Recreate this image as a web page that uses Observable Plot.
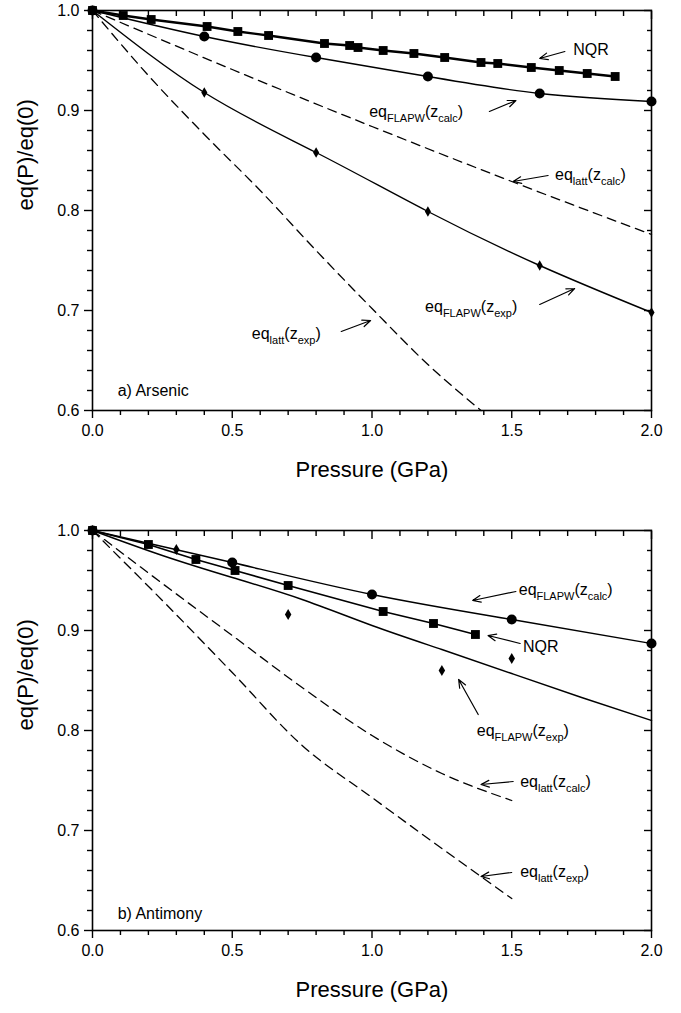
<!DOCTYPE html>
<html><head><meta charset="utf-8">
<script src="https://cdn.jsdelivr.net/npm/d3@7"></script>
<script src="https://cdn.jsdelivr.net/npm/@observablehq/plot@0.6"></script>
<style>
body{margin:0;background:#fff;}
#chart{width:681px;}
#chart svg{display:block;}
</style>
</head><body><div id="chart"></div>
<script>
// ---------- Axis ticks ----------
const xMajor = [0, 0.5, 1.0, 1.5, 2.0];
const xMinor = [0.1,0.2,0.3,0.4,0.6,0.7,0.8,0.9,1.1,1.2,1.3,1.4,1.6,1.7,1.8,1.9];
const yMajor = [0.6, 0.7, 0.8, 0.9, 1.0];
const yMinor = [0.62,0.64,0.66,0.68,0.72,0.74,0.76,0.78,0.82,0.84,0.86,0.88,0.92,0.94,0.96,0.98];

// ---------- a) Arsenic ----------
const asNqrP = [0, 0.11, 0.21, 0.41, 0.52, 0.63, 0.83, 0.92, 0.95, 1.04, 1.15, 1.26, 1.39, 1.45, 1.57, 1.67, 1.77, 1.87];
const asNqrV = [1.0, 0.995, 0.991, 0.984, 0.979, 0.975, 0.967, 0.965, 0.963, 0.960, 0.957, 0.953, 0.948, 0.947, 0.943, 0.940, 0.937, 0.934];
const asFlapwP = [0, 0.4, 0.8, 1.2, 1.6, 2.0];
const asFlapwCalcV = [1.0, 0.974, 0.953, 0.934, 0.917, 0.909];
const asFlapwExpV = [1.0, 0.918, 0.858, 0.799, 0.745, 0.698];
const asLattCalcP = [0, 0.5, 1.0, 1.5, 2.0];
const asLattCalcV = [1.0, 0.941, 0.884, 0.829, 0.776];
const asLattExpP = [0, 0.2, 0.4, 0.6, 0.8, 1.0, 1.2, 1.39];
const asLattExpV = [1.0, 0.935, 0.876, 0.82, 0.76, 0.702, 0.646, 0.60];
// annotations (label text, anchor point, arrow)
const asLabels = ["NQR", "eq_{FLAPW}(z_{calc})", "eq_{latt}(z_{calc})", "eq_{FLAPW}(z_{exp})", "eq_{latt}(z_{exp})", "a) Arsenic"];
const asLabelP = [1.72, 0.99, 1.655, 1.19, 0.57, 0.09];
const asLabelV = [0.961, 0.899, 0.836, 0.704, 0.677, 0.62];
const asArrowP1 = [1.69, 1.42, 1.63, 1.60, 0.89];
const asArrowV1 = [0.959, 0.899, 0.835, 0.706, 0.679];
const asArrowP2 = [1.60, 1.515, 1.505, 1.725, 0.995];
const asArrowV2 = [0.952, 0.910, 0.829, 0.722, 0.690];

// ---------- b) Antimony ----------
const sbNqrP = [0, 0.2, 0.37, 0.51, 0.70, 1.04, 1.22, 1.37];
const sbNqrV = [1.0, 0.986, 0.971, 0.960, 0.945, 0.919, 0.907, 0.896];
const sbFlapwCalcP = [0, 0.5, 1.0, 1.5, 2.0];
const sbFlapwCalcV = [1.0, 0.968, 0.936, 0.911, 0.887];
const sbDiamondP = [0, 0.3, 0.7, 1.25, 1.5];
const sbDiamondV = [1.0, 0.981, 0.916, 0.860, 0.872];
const sbFlapwExpP = [0, 0.25, 0.5, 0.75, 1.0, 1.25, 1.5, 1.75, 2.0];
const sbFlapwExpV = [1.0, 0.975, 0.953, 0.931, 0.905, 0.881, 0.857, 0.833, 0.81];
const sbLattP = [0, 0.25, 0.5, 0.75, 1.0, 1.25, 1.5];
const sbLattCalcV = [1.0, 0.947, 0.895, 0.843, 0.795, 0.757, 0.730];
const sbLattExpV = [1.0, 0.93, 0.858, 0.785, 0.733, 0.682, 0.632];
const sbLabels = ["eq_{FLAPW}(z_{calc})", "NQR", "eq_{FLAPW}(z_{exp})", "eq_{latt}(z_{calc})", "eq_{latt}(z_{exp})", "b) Antimony"];
const sbLabelP = [1.525, 1.54, 1.375, 1.53, 1.53, 0.09];
const sbLabelV = [0.941, 0.884, 0.80, 0.749, 0.659, 0.617];
const sbArrowP1 = [1.515, 1.53, 1.38, 1.505, 1.50];
const sbArrowV1 = [0.939, 0.887, 0.816, 0.749, 0.658];
const sbArrowP2 = [1.36, 1.415, 1.31, 1.39, 1.39];
const sbArrowV2 = [0.930, 0.895, 0.851, 0.746, 0.654];

const FONT = "'Liberation Sans', Arial, Helvetica, sans-serif";
const zip = (xs, ys) => xs.map((x, i) => ({x, y: ys[i]}));

function axes() {
  const blank = () => "";
  return [
    Plot.axisX({ticks: xMajor, tickSize: 8, tickPadding: 6, tickFormat: d3.format(".1f"), fontSize: 16, label: null, strokeWidth: 1.4}),
    Plot.axisX({ticks: xMinor, tickSize: 5, tickFormat: blank, label: null, strokeWidth: 1.4}),
    Plot.axisX({anchor: "top", ticks: xMajor, tickSize: -8, tickFormat: blank, label: null, strokeWidth: 1.4}),
    Plot.axisX({anchor: "top", ticks: xMinor, tickSize: -5, tickFormat: blank, label: null, strokeWidth: 1.4}),
    Plot.axisY({ticks: yMajor, tickSize: 8, tickPadding: 5, tickFormat: d3.format(".1f"), fontSize: 16, label: null, strokeWidth: 1.4}),
    Plot.axisY({ticks: yMinor, tickSize: 5, tickFormat: blank, label: null, strokeWidth: 1.4}),
    Plot.axisY({anchor: "right", ticks: yMajor, tickSize: -8, tickFormat: blank, label: null, strokeWidth: 1.4}),
    Plot.axisY({anchor: "right", ticks: yMinor, tickSize: -5, tickFormat: blank, label: null, strokeWidth: 1.4}),
    Plot.frame({stroke: "black", strokeWidth: 1.6}),
    Plot.text(["Pressure (GPa)"], {frameAnchor: "bottom", dy: 66, fontSize: 22, fill: "black"}),
    Plot.text(["eq(P)/eq(0)"], {frameAnchor: "left", dx: -67, rotate: -90, fontSize: 22, fill: "black"})
  ];
}

function annotations(labels, lp, lv, p1, v1, p2, v2) {
  const lab = labels.map((t, i) => ({t, x: lp[i], y: lv[i]}));
  const arr = p1.map((d, i) => ({x1: d, y1: v1[i], x2: p2[i], y2: v2[i]}));
  return [
    Plot.text(lab, {x: "x", y: "y", text: "t", textAnchor: "start", fontSize: 16, fill: "black"}),
    Plot.arrow(arr, {x1: "x1", y1: "y1", x2: "x2", y2: "y2", stroke: "black", strokeWidth: 1.2, headLength: 11, headAngle: 45})
  ];
}

function subscripts(svg) {
  d3.select(svg).selectAll("text").each(function () {
    const t = this.textContent;
    if (!t.includes("_{")) return;
    const sel = d3.select(this);
    sel.text(null);
    const parts = t.split(/(_\{[^}]*\})/).filter(p => p);
    let lowered = false;
    for (const p of parts) {
      if (p.startsWith("_{")) {
        sel.append("tspan").attr("font-size", 11).attr("dy", lowered ? 0 : 5).text(p.slice(2, -1));
        lowered = true;
      } else {
        sel.append("tspan").attr("dy", lowered ? -5 : 0).text(p);
        lowered = false;
      }
    }
  });
  return svg;
}

const common = {
  width: 681,
  marginLeft: 92,
  marginRight: 30,
  x: {domain: [0, 2.0]},
  y: {domain: [0.6, 1.0]},
  style: {fontFamily: FONT, color: "black", background: "white", overflow: "visible"}
};

const plotA = Plot.plot({
  ...common,
  height: 506, marginTop: 10, marginBottom: 96,
  marks: [
    ...axes(),
    Plot.line(zip(asLattCalcP, asLattCalcV), {x: "x", y: "y", curve: "monotone-x", stroke: "black", strokeWidth: 1.3, strokeDasharray: "9,6"}),
    Plot.line(zip(asLattExpP, asLattExpV), {x: "x", y: "y", curve: "monotone-x", stroke: "black", strokeWidth: 1.3, strokeDasharray: "9,6"}),
    Plot.line(zip(asFlapwP, asFlapwCalcV), {x: "x", y: "y", curve: "natural", stroke: "black", strokeWidth: 1.4}),
    Plot.line(zip(asFlapwP, asFlapwExpV), {x: "x", y: "y", curve: "natural", stroke: "black", strokeWidth: 1.4}),
    Plot.line(zip(asNqrP, asNqrV), {x: "x", y: "y", stroke: "black", strokeWidth: 2.4}),
    Plot.dot(zip(asFlapwP, asFlapwCalcV), {x: "x", y: "y", symbol: "circle", r: 5, fill: "black"}),
    Plot.dot(zip(asFlapwP, asFlapwExpV), {x: "x", y: "y", symbol: "diamond", r: 3.2, fill: "black"}),
    Plot.dot(zip(asNqrP, asNqrV), {x: "x", y: "y", symbol: "square", r: 5, fill: "black"}),
    ...annotations(asLabels, asLabelP, asLabelV, asArrowP1, asArrowV1, asArrowP2, asArrowV2)
  ]
});

const plotB = Plot.plot({
  ...common,
  height: 507, marginTop: 24, marginBottom: 83,
  marks: [
    ...axes(),
    Plot.line(zip(sbLattP, sbLattCalcV), {x: "x", y: "y", curve: "monotone-x", stroke: "black", strokeWidth: 1.3, strokeDasharray: "9,6"}),
    Plot.line(zip(sbLattP, sbLattExpV), {x: "x", y: "y", curve: "monotone-x", stroke: "black", strokeWidth: 1.3, strokeDasharray: "9,6"}),
    Plot.line(zip(sbFlapwCalcP, sbFlapwCalcV), {x: "x", y: "y", curve: "natural", stroke: "black", strokeWidth: 1.4}),
    Plot.line(zip(sbFlapwExpP, sbFlapwExpV), {x: "x", y: "y", curve: "natural", stroke: "black", strokeWidth: 1.4}),
    Plot.line(zip(sbNqrP, sbNqrV), {x: "x", y: "y", stroke: "black", strokeWidth: 1.7}),
    Plot.dot(zip(sbFlapwCalcP, sbFlapwCalcV), {x: "x", y: "y", symbol: "circle", r: 5, fill: "black"}),
    Plot.dot(zip(sbDiamondP, sbDiamondV), {x: "x", y: "y", symbol: "diamond", r: 3.4, fill: "black"}),
    Plot.dot(zip(sbNqrP, sbNqrV), {x: "x", y: "y", symbol: "square", r: 5, fill: "black"}),
    ...annotations(sbLabels, sbLabelP, sbLabelV, sbArrowP1, sbArrowV1, sbArrowP2, sbArrowV2)
  ]
});

const chart = document.getElementById("chart");
chart.appendChild(subscripts(plotA));
chart.appendChild(subscripts(plotB));
</script>
</body></html>
